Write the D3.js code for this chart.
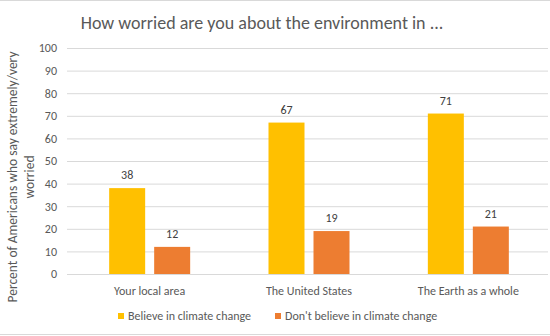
<!DOCTYPE html>
<html>
<head>
<meta charset="utf-8">
<script src="https://cdn.jsdelivr.net/npm/d3@7"></script>
<style>
  html, body { margin: 0; padding: 0; background: #fff; }
  svg { display: block; font-family: Carlito, Lato, "Open Sans", sans-serif; }
</style>
</head>
<body>
<svg id="chart" width="550" height="336"></svg>
<script>
// Survey results: share of Americans extremely/very worried, by scope
const categories = ["Your local area", "The United States", "The Earth as a whole"];
const seriesNames = ["Believe in climate change", "Don't believe in climate change"];
const believeValues = [38, 67, 71];
const dontBelieveValues = [12, 19, 21];
const yTicks = [0, 10, 20, 30, 40, 50, 60, 70, 80, 90, 100];
const seriesColors = ["#FFC000", "#ED7D31"];

const svg = d3.select("#chart");
const W = 550, H = 336;
const plot = { left: 70, right: 548, top: 48, bottom: 274 };
const textColor = "#595959";
const gridColor = "#d9d9d9";

// Chart frame lines
svg.append("line").attr("x1", 0).attr("x2", W).attr("y1", 0.5).attr("y2", 0.5)
  .attr("stroke", gridColor);
svg.append("line").attr("x1", 0).attr("x2", W).attr("y1", H - 1.5).attr("y2", H - 1.5)
  .attr("stroke", gridColor);

const x = d3.scaleBand().domain(categories).range([plot.left, plot.right]).padding(0);
const y = d3.scaleLinear().domain([0, 100]).range([plot.bottom, plot.top]);

const barW = 36, innerGap = 9;

// Horizontal gridlines and tick labels
const yAxis = d3.axisLeft(y).tickValues(yTicks).tickSize(-(plot.right - 67)).tickPadding(10);
const gy = svg.append("g").attr("transform", `translate(67,0)`).call(yAxis);
gy.select(".domain").remove();
gy.selectAll(".tick line").attr("stroke", gridColor).attr("stroke-width", 1);
gy.selectAll(".tick text").attr("fill", textColor).attr("font-size", 12)
  .attr("font-family", "Carlito, Lato, sans-serif");

// Category labels
const xAxis = d3.axisBottom(x).tickSize(0).tickPadding(12);
const gx = svg.append("g").attr("transform", `translate(0,${plot.bottom})`).call(xAxis);
gx.select(".domain").remove();
gx.selectAll(".tick text").attr("fill", textColor).attr("font-size", 12)
  .attr("font-family", "Carlito, Lato, sans-serif");

// Bars
const series = [believeValues, dontBelieveValues];
series.forEach((vals, si) => {
  const g = svg.append("g");
  const offset = si === 0 ? -(barW + innerGap / 2) : innerGap / 2;
  g.selectAll("rect").data(categories).join("rect")
    .attr("x", d => x(d) + x.bandwidth() / 2 + offset)
    .attr("y", (d, i) => y(vals[i]))
    .attr("width", barW)
    .attr("height", (d, i) => y(0) - y(vals[i]))
    .attr("fill", seriesColors[si]);
  g.selectAll("text").data(categories).join("text")
    .attr("x", d => x(d) + x.bandwidth() / 2 + offset + barW / 2)
    .attr("y", (d, i) => y(vals[i]) - 9)
    .attr("text-anchor", "middle")
    .attr("font-size", 12)
    .attr("fill", "#404040")
    .text((d, i) => vals[i]);
});

// Title
svg.append("text").attr("x", 262).attr("y", 29).attr("text-anchor", "middle")
  .attr("font-size", 18).attr("font-weight", 300).attr("fill", textColor)
  .text("How worried are you about the environment in ...");

// Y axis title (two lines)
const yt = svg.append("text").attr("transform", "translate(0,177) rotate(-90)")
  .attr("text-anchor", "middle").attr("font-size", 13.5).attr("fill", textColor);
yt.append("tspan").attr("x", 0).attr("y", 17).text("Percent of Americans who say extremely/very");
yt.append("tspan").attr("x", 0).attr("y", 34).text("worried");

// Legend
const legend = svg.append("g");
const legendX = [118, 275];
seriesNames.forEach((name, i) => {
  legend.append("rect").attr("x", legendX[i]).attr("y", 313).attr("width", 6).attr("height", 6)
    .attr("fill", seriesColors[i]);
  legend.append("text").attr("x", legendX[i] + 10).attr("y", 320)
    .attr("font-size", 12).attr("fill", textColor).text(name);
});
</script>
</body>
</html>
